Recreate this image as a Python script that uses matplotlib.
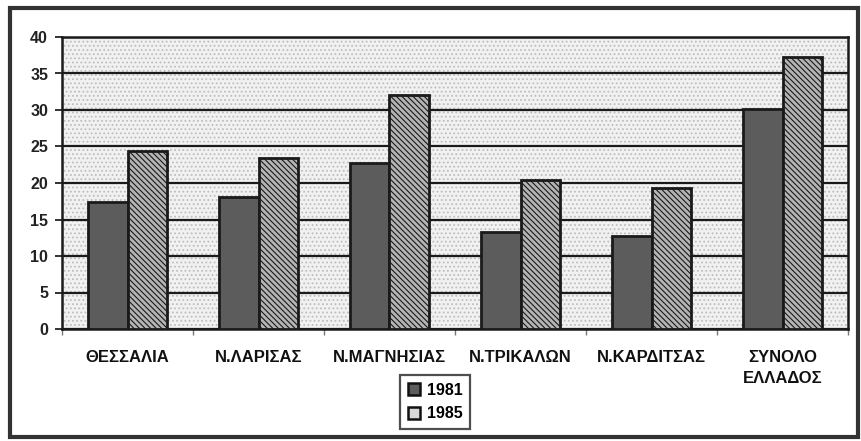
import matplotlib
matplotlib.use("Agg")
import matplotlib.pyplot as plt
from matplotlib.patches import Patch, Rectangle
import numpy as np

categories = ["ΘΕΣΣΑΛΙΑ", "Ν.ΛΑΡΙΣΑΣ", "Ν.ΜΑΓΝΗΣΙΑΣ", "Ν.ΤΡΙΚΑΛΩΝ", "Ν.ΚΑΡΔΙΤΣΑΣ", "ΣΥΝΟΛΟ\nΕΛΛΑΔΟΣ"]
series_names = ["1981", "1985"]
values_1981 = [17.4, 18.1, 22.8, 13.3, 12.8, 30.1]
values_1985 = [24.4, 23.4, 32.0, 20.4, 19.3, 37.3]
yticks = [0, 5, 10, 15, 20, 25, 30, 35, 40]

plt.rcParams['font.family'] = ['Liberation Sans', 'DejaVu Sans']
plt.rcParams['hatch.linewidth'] = 0.8

fig = plt.figure(figsize=(8.61, 4.41), dpi=100)
ax = fig.add_axes([62/861, 1-329/441, (848-62)/861, (329-37)/441])

# plot background: light stippled gray
ax.set_facecolor('#f1f1f1')
ax.patch.set_hatch('....')
ax.patch.set_edgecolor('#bdbdbd')

x = np.arange(len(categories))
w = 0.305
b1 = ax.bar(x - w/2, values_1981, width=w, color='#5c5c5c', edgecolor='#1a1a1a',
            linewidth=2, zorder=3)
b2 = ax.bar(x + w/2, values_1985, width=w, color='#b4b4b4', edgecolor='#1a1a1a',
            linewidth=2, hatch='\\\\\\\\\\\\', zorder=3)

ax.set_ylim(0, 40)
ax.set_xlim(-0.5, len(categories) - 0.5)
ax.set_yticks(yticks)
ax.set_yticklabels([str(t) for t in yticks], fontsize=11.5, fontweight='bold', color='#222')
ax.yaxis.grid(True, color='#1a1a1a', linewidth=1.6, zorder=1)
ax.set_axisbelow(True)
ax.tick_params(axis='y', length=5, width=1.3, pad=5, color='#222')

ax.set_xticks(x)
ax.set_xticklabels(categories, fontsize=12, fontweight='bold', color='#111', linespacing=1.5)
ax.tick_params(axis='x', length=0, pad=15)
ax.set_xticks(np.arange(-0.5, len(categories)), minor=True)
ax.tick_params(axis='x', which='minor', length=4, width=1, color='#777')

for s in ax.spines.values():
    s.set_linewidth(1.8)
    s.set_color('#1a1a1a')

handles = [Patch(facecolor='#5c5c5c', edgecolor='#111', linewidth=1.8),
           Patch(facecolor='#d8d8d8', edgecolor='#111', linewidth=1.8)]
leg = fig.legend(handles, series_names, loc='center', bbox_to_anchor=(435/861, 1-402/441),
                 frameon=True, fancybox=False, edgecolor='#222', handlelength=0.8,
                 handleheight=0.8, handletextpad=0.4, borderpad=0.5, labelspacing=0.55,
                 prop={'weight': 'bold', 'size': 11.5})
leg.get_frame().set_linewidth(1.6)

# outer frame of the scanned chart
fig.patches.append(Rectangle((10/861, 4/441), (858-10)/861, (433-4)/441, transform=fig.transFigure,
                             fill=False, edgecolor='#333', linewidth=3))

fig.savefig('out.png', dpi=100)
